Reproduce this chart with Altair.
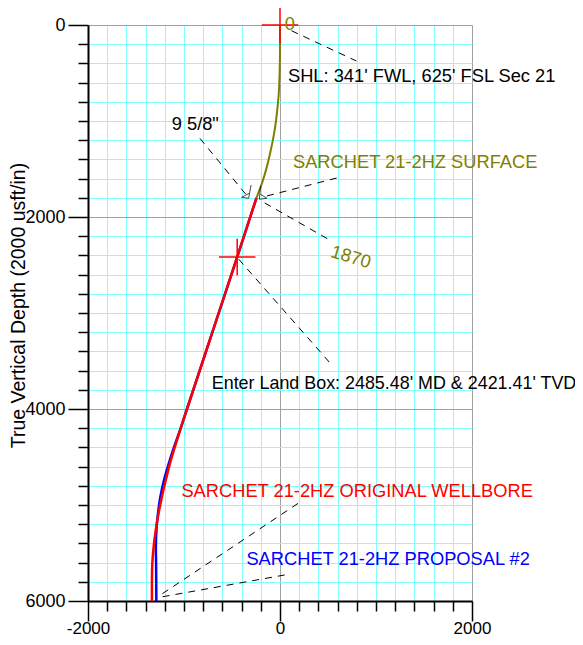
import altair as alt
import pandas as pd

# ---- trajectories: (EW offset ft, TVD ft) ----
surface_x = [0, 0, -4, -12, -25, -42, -65, -95, -135, -185, -245]
surface_tvd = [0, 300, 500, 700, 850, 1000, 1150, 1300, 1470, 1640, 1800]

orig_x = [-245, -446, -969, -1034, -1097, -1146, -1190, -1230, -1265, -1294, -1316, -1330, -1334, -1334]
orig_tvd = [1800, 2417, 4000, 4200, 4400, 4566, 4740, 4913, 5087, 5260, 5434, 5607, 5800, 6000]

prop_x = [-245, -446, -969, -1034, -1105, -1158, -1208, -1246, -1271, -1287, -1293, -1291, -1288]
prop_tvd = [1800, 2417, 4000, 4200, 4400, 4566, 4740, 4913, 5087, 5260, 5434, 5600, 6000]

# ---- axis ticks ----
x_ticks = list(range(-2000, 2001, 200))
y_ticks = list(range(0, 6001, 200))

# ---- leader (dashed) lines ----
lead_x1 = [120, -834, -159, 590, -430, 188, 49]
lead_y1 = [60, 1181, 1854, 1594, 2440, 4983, 5729]
lead_x2 = [796, -350, 518, -180, 549, -1272, -1253]
lead_y2 = [375, 1771, 2240, 1792, 3552, 5955, 5961]

# ---- crosshair markers (surface, land box) ----
cross_x = [0, -446]
cross_y = [0, 2417]

# ---- casing point symbols ----
casing_left = ([-334], [1740])
casing_right = ([-201], [1750])

# ---- annotation texts ----
ann_text = ["0", "SHL: 341' FWL, 625' FSL Sec 21", '9 5/8"', "SARCHET 21-2HZ SURFACE", "1870",
            "SARCHET 21-2HZ ORIGINAL WELLBORE", "SARCHET 21-2HZ PROPOSAL #2"]
ann_x = [49, 83, -1128, 135, 518, -1027, -350]
ann_y = [47, 590, 1089, 1486, 2413, 4913, 5625]
ann_color = ["#808000", "black", "black", "#808000", "#808000", "#ff0000", "#0000ff"]
ann_angle = [0, 0, 0, 0, 17, 0, 0]

land_text = ["Enter Land Box: 2485.48' MD & 2421.41' TVD"]
land_x = [-711]
land_y = [3795]

FONT = "Liberation Sans"
major = "datum.value % 2000 === 0"

xscale = alt.Scale(domain=[-2000, 2000], nice=False, zero=False)
yscale = alt.Scale(domain=[0, 6000], nice=False, zero=False, reverse=True)

common_axis = dict(
    domainColor="black", domainWidth=2,
    tickColor="black", tickWidth=1.5,
    tickSize={"condition": {"test": major, "value": 20}, "value": 10},
    gridColor={"condition": {"test": major, "value": "#a0a0a0"}, "value": "#80ffff"},
    gridWidth=1, gridOpacity=1,
    labelFont=FONT, labelColor="black",
    labelExpr=f"{major} ? '' + datum.value : ''",
    labelOverlap=False, labelFlush=False, labelBound=False,
)

x_axis = alt.Axis(values=x_ticks, title=None, labelPadding=12.5, labelBaseline="alphabetic",
                  labelFontSize=17, **common_axis)
y_axis = alt.Axis(values=y_ticks, title="True Vertical Depth (2000 usft/in)", labelPadding=3,
                  labelFontSize=18,
                  titleFont=FONT, titleFontSize=19.5, titleFontWeight="normal", titleColor="black",
                  titleX=-69.5, titleY=280, titleBaseline="middle", titleAngle=270, **common_axis)


def X(field):
    return alt.X(field, type="quantitative", scale=xscale, axis=x_axis)


def Y(field):
    return alt.Y(field, type="quantitative", scale=yscale, axis=y_axis)


def track(xs, ys):
    return pd.DataFrame({"x": xs, "y": ys, "i": range(len(xs))})


df_surf = track(surface_x, surface_tvd)
df_orig = track(orig_x, orig_tvd)
df_prop = track(prop_x, prop_tvd)

leaders = alt.Chart(pd.DataFrame({"x": lead_x1, "y": lead_y1, "x2": lead_x2, "y2": lead_y2})).mark_rule(
    color="black", strokeWidth=1, strokeDash=[7, 6], clip=False
).encode(x=X("x"), y=Y("y"), x2="x2", y2="y2")

prop_line = alt.Chart(df_prop).mark_line(color="#0000ff", strokeWidth=2.5, clip=False,
                                         interpolate="catmull-rom").encode(
    x=X("x"), y=Y("y"), order="i:Q")
orig_line = alt.Chart(df_orig).mark_line(color="#ff0000", strokeWidth=2.5, clip=False,
                                         interpolate="catmull-rom").encode(
    x=X("x"), y=Y("y"), order="i:Q")
surf_line = alt.Chart(df_surf).mark_line(color="#808000", strokeWidth=2, clip=False,
                                         interpolate="catmull-rom").encode(
    x=X("x"), y=Y("y"), order="i:Q")

cross_df = pd.DataFrame({"cx": cross_x, "cy": cross_y})
cross_h = alt.Chart(cross_df).transform_calculate(
    xa="datum.cx - 190", xb="datum.cx + 190").mark_rule(color="#ff0000", strokeWidth=1.5, clip=False).encode(
    x=X("xa"), x2="xb", y=Y("cy"))
cross_v = alt.Chart(cross_df).transform_calculate(
    ya="datum.cy - 190", yb="datum.cy + 190").mark_rule(color="#ff0000", strokeWidth=1.5, clip=False).encode(
    x=X("cx"), y=Y("ya"), y2="yb")

cas_l = alt.Chart(pd.DataFrame({"x": casing_left[0], "y": casing_left[1]})).mark_point(
    shape="M0.45,-1L0.1,0.9L-0.9,0.75L0.25,0.15", size=196, filled=False, color="black",
    strokeWidth=1, clip=False).encode(x=X("x"), y=Y("y"))
cas_r = alt.Chart(pd.DataFrame({"x": casing_right[0], "y": casing_right[1]})).mark_point(
    shape="M0.0,-1L-0.2,0.9L0.9,0.75L-0.1,0.15", size=196, filled=False, color="black",
    strokeWidth=1, clip=False).encode(x=X("x"), y=Y("y"))

ann = alt.Chart(pd.DataFrame({"t": ann_text, "x": ann_x, "y": ann_y, "c": ann_color, "a": ann_angle})).mark_text(
    font=FONT, fontSize=18.3, align="left", baseline="alphabetic", clip=False
).encode(x=X("x"), y=Y("y"), text="t:N", color=alt.Color("c:N", scale=None),
         angle=alt.Angle("a:Q", scale=None))

land = alt.Chart(pd.DataFrame({"t": land_text, "x": land_x, "y": land_y})).mark_text(
    font=FONT, fontSize=17.9, align="left", baseline="alphabetic", clip=False, color="black"
).encode(x=X("x"), y=Y("y"), text="t:N")

chart = alt.layer(leaders, prop_line, orig_line, surf_line, cross_h, cross_v, cas_l, cas_r, ann, land).properties(
    width=384, height=576,
    padding={"left": 80, "top": 17, "right": 103, "bottom": 36},
    autosize=alt.AutoSizeParams(type="none"),
).configure_view(stroke=None)

chart.save("out.html", embed_options={"renderer": "svg", "actions": False})
